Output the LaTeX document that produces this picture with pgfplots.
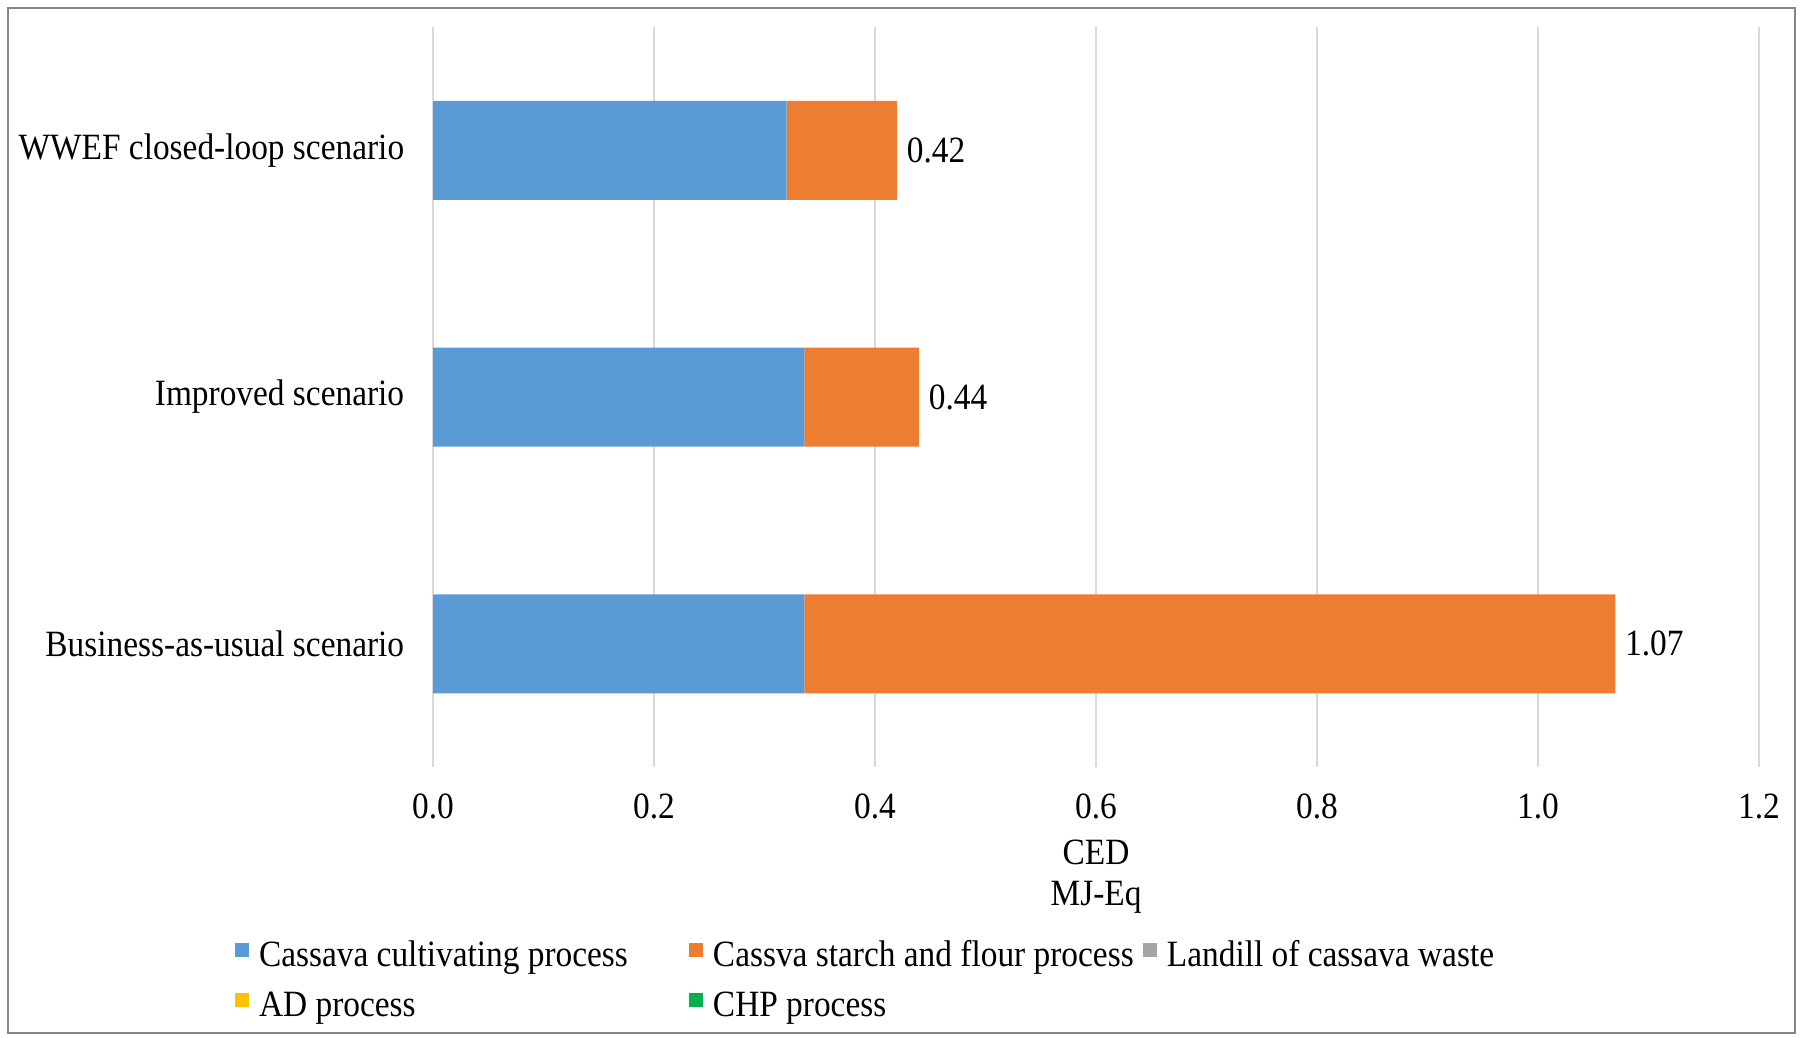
\documentclass[border=0pt]{standalone}
\usepackage{fontspec}
\setmainfont[FakeStretch=0.9]{Liberation Serif}
\usepackage{pgfplots}
\usepackage{pgfplotstable}
\pgfplotsset{compat=1.18}

\definecolor{cultblue}{HTML}{5B9BD5}
\definecolor{starchorange}{HTML}{ED7D31}
\definecolor{landfillgray}{HTML}{A5A5A5}
\definecolor{adyellow}{HTML}{FFC000}
\definecolor{chpgreen}{HTML}{00B050}
\definecolor{gridgray}{HTML}{D9D9D9}
\definecolor{framegray}{HTML}{858585}

% Cumulative energy demand per scenario (MJ-Eq)
\pgfplotstableread{
pos cult  starch total
0   0.336 0.734  1.07
1   0.336 0.104  0.44
2   0.320 0.100  0.42
}\cedtable

\newcommand{\chartfont}{\fontsize{10.3}{11.4}\selectfont}

\pgfplotsset{
  cedframe/.style={
    scale only axis,
    width=368.3pt, height=205.6pt,
    xmin=0, xmax=1.2,
    ymin=-0.5, ymax=2.5,
  },
}

\begin{document}
\begin{tikzpicture}
\useasboundingbox (-120.3pt,-75pt) rectangle (379.7pt,213.1pt);
\begin{axis}[
  cedframe,
  xbar stacked,
  bar width=27.5pt,
  xtick={0,0.2,...,1.2},
  ytick={0,1,2},
  yticklabels={Business-as-usual scenario, Improved scenario, WWEF closed-loop scenario},
  xticklabel={\pgfmathprintnumber[fixed,fixed zerofill,precision=1]{\tick}},
  /pgf/number format/assume math mode=true,
  xmajorgrids,
  grid style={gridgray, line width=0.4pt},
  axis line style={draw=none},
  major tick length=0pt,
  tick label style={font=\chartfont},
  xticklabel style={yshift=-4pt},
  yticklabel style={xshift=-4.5pt},
  xlabel={CED\\MJ-Eq},
  every axis x label/.style={at={(rel axis cs:0.5,0)}, anchor=north, yshift=-16.8pt, align=center, font=\chartfont},
  legend columns=3,
  legend style={
    draw=none, fill=none, inner sep=0pt,
    at={(rel axis cs:-0.150,-0.234)}, anchor=north west,
    font=\chartfont,
    nodes={inner sep=0pt, text height=7pt, text depth=2pt},
    row sep=4.9pt,
    /tikz/every odd column/.append style={column sep=2.8pt},
  },
  legend cell align=left,
  legend image code/.code={\fill[#1] (0pt,0pt) rectangle (3.9pt,3.9pt);},
]
\addplot[fill=cultblue, draw=none] table[x=cult, y=pos] {\cedtable};
\addplot[fill=starchorange, draw=none] table[x=starch, y=pos] {\cedtable};
\addlegendimage{fill=landfillgray, draw=none}
\addlegendimage{fill=adyellow, draw=none}
\addlegendimage{fill=chpgreen, draw=none}
\legend{\makebox[119.4pt][l]{Cassava cultivating process},
        \makebox[119.4pt][l]{Cassva starch and flour process},
        Landill of cassava waste,
        \makebox[119.4pt][l]{AD process},
        CHP process}
\end{axis}
% total labels at the end of each bar
\begin{axis}[cedframe, hide axis, clip=false]
\addplot[only marks, mark=none,
  point meta=explicit,
  nodes near coords={\pgfmathprintnumber[fixed,fixed zerofill,precision=2,assume math mode=true]{\pgfplotspointmeta}},
  nodes near coords style={font=\chartfont, anchor=west, inner sep=2.5pt, text=black},
] table[x=total, y=pos, meta=total] {\cedtable};
\end{axis}
\draw[framegray, line width=0.6pt] (-118.1pt,-73.9pt) rectangle (378.3pt,210.8pt);
\end{tikzpicture}
\end{document}
